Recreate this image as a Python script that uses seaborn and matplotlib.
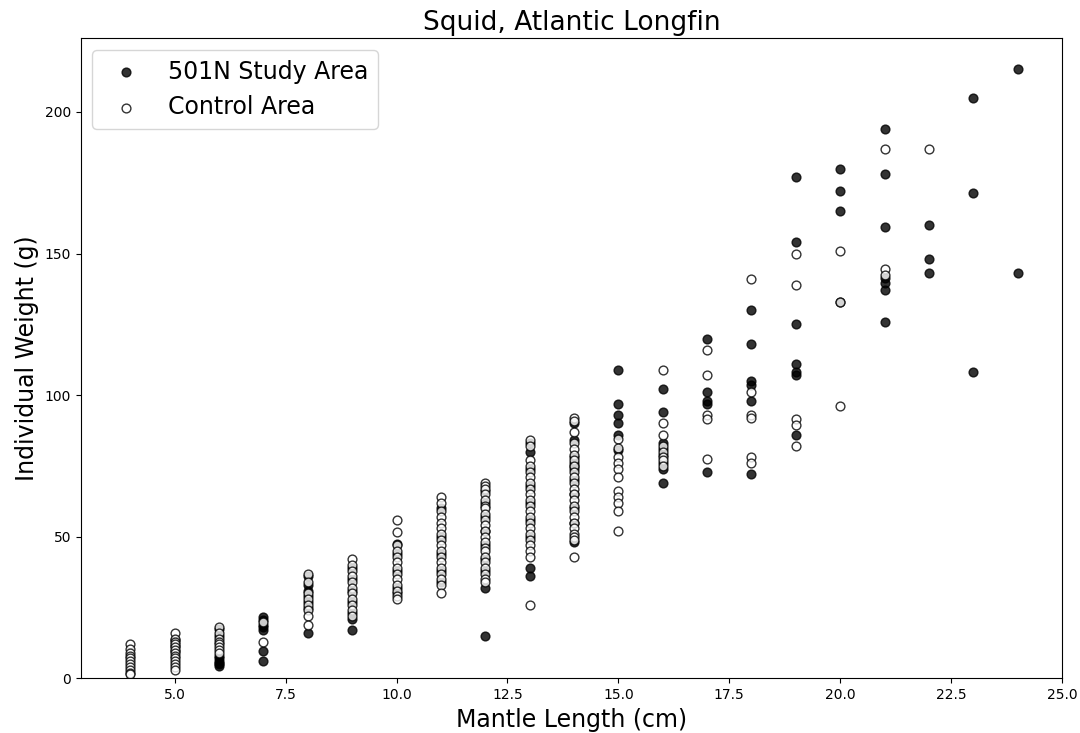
import numpy as np
import pandas as pd
import matplotlib
matplotlib.use("Agg")
import matplotlib.pyplot as plt
import seaborn as sns

# Mantle length classes (cm)
mantle_lengths = list(range(4, 25))

# Individual weights (g) per mantle length class, 501N study area
study_weights = [
    [],
    [13.5, 11.5, 9.5],
    [17.5, 15, 8, 7, 6, 5.5, 5, 4.5],
    [21.5, 20.5, 19, 18, 17, 9.5, 6],
    [36, 33, 31, 29, 27, 25, 16],
    [39, 35, 31, 27, 23, 21, 17],
    [47.5, 44, 38, 32, 30],
    [60, 50, 44, 38, 34],
    [66, 62, 57, 52, 47, 42, 38, 32, 15],
    [83, 80, 74, 68, 62, 56, 50, 39, 36],
    [90, 84, 78, 76, 75, 74, 70, 65, 60, 55, 48],
    [109, 97, 93, 90, 86, 80.5],
    [102, 94, 83, 81, 79, 76, 74, 69],
    [120, 101, 98, 97, 73],
    [130, 118, 105, 103.5, 98, 72],
    [177, 154, 125, 111, 108, 107, 86],
    [180, 172, 165, 133],
    [194, 178, 159.5, 141.5, 139.5, 137, 126],
    [160, 148, 143],
    [205, 171.5, 108],
    [215, 143],
]

# Individual weights (g) per mantle length class, control area
control_weights = [
    [12, 10.5, 9, 8, 7, 6, 5, 4, 3, 2, 1.5],
    [16, 14, 13, 12, 11, 10, 9, 8, 7, 6, 5, 4, 3],
    [18, 16, 14, 13, 12, 11, 10, 9],
    [20, 13],
    [37, 34, 30, 28, 26, 24, 22, 19],
    [42, 40, 38, 36, 34, 32, 30, 28, 26, 24, 22],
    [56, 51.5, 47, 45, 43, 41, 39, 37, 35, 33, 31, 29, 28],
    [64, 62, 59, 57, 55, 53, 51, 49, 47, 45, 43, 41, 39, 37, 35, 33, 30],
    [69, 68, 67, 65, 63, 61, 60, 58, 56, 54, 52, 50, 48, 46, 45, 43, 41,
     39, 37, 35, 34],
    [84, 82, 77, 75, 73, 71, 69, 67, 65, 63, 61, 59, 57, 55, 53, 51, 49,
     47, 45, 43, 26],
    [92, 91, 87, 83, 81, 79, 77, 75, 73, 71, 69, 67, 65, 63, 61, 59, 57,
     55, 53, 51, 50, 49, 43],
    [84.5, 81.5, 78, 76, 74, 71, 66, 64, 62, 59, 52],
    [109, 90, 86, 82, 80, 78, 77, 75],
    [116, 107, 93, 91.5, 77.5],
    [141, 101, 93, 92, 78, 76],
    [150, 139, 91.5, 89.5, 82],
    [151, 133, 96],
    [187, 144.5, 142.5],
    [187],
    [],
    [],
]

series_labels = ["501N Study Area", "Control Area"]


def to_frame(weights):
    rows = [(length, w) for length, ws in zip(mantle_lengths, weights) for w in ws]
    return pd.DataFrame(rows, columns=["length", "weight"])


study_df = to_frame(study_weights)
control_df = to_frame(control_weights)

fig = plt.figure(figsize=(10.8, 7.33), dpi=100)
ax = fig.add_axes([0.0747, 0.0746, 0.9086, 0.8731])

sns.scatterplot(data=study_df, x="length", y="weight", ax=ax,
                color="black", edgecolor="black", linewidth=1.0,
                alpha=0.8, s=40, label=series_labels[0])
sns.scatterplot(data=control_df, x="length", y="weight", ax=ax,
                color="white", edgecolor="black", linewidth=1.0,
                alpha=0.8, s=40, label=series_labels[1])

ax.set_xlim(2.88, 25.0)
ax.set_ylim(0, 226)
ax.set_xticks(np.arange(5.0, 25.1, 2.5))
ax.set_xticklabels([f"{v:.1f}" for v in np.arange(5.0, 25.1, 2.5)])
ax.set_yticks([0, 50, 100, 150, 200])
ax.tick_params(labelsize=10)

ax.set_title("Squid, Atlantic Longfin", fontsize=19)
ax.set_xlabel("Mantle Length (cm)", fontsize=17)
ax.set_ylabel("Individual Weight (g)", fontsize=17)
ax.legend(loc="upper left", fontsize=17)

fig.savefig("out.png", dpi=100)
